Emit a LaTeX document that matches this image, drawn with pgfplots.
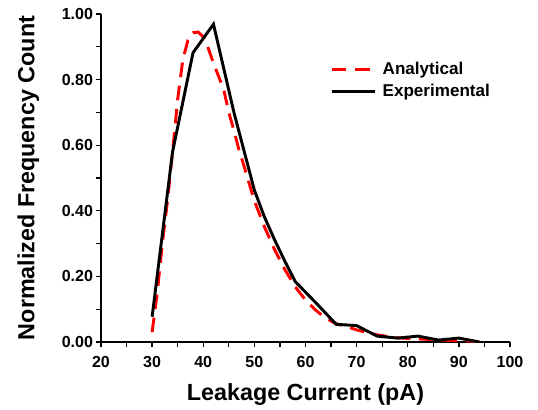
\documentclass[border=0pt]{standalone}
\usepackage{fontspec}
\setmainfont{Liberation Sans}
\usepackage{pgfplots}
\pgfplotsset{compat=1.18}
\begin{document}
\begin{tikzpicture}
\pgfresetboundingbox
\begin{axis}[name=a,
  scale only axis, width=306.75pt, height=246pt,
  axis lines=left, axis line style={-, line width=1pt},
  xmin=20, xmax=100, ymin=0, ymax=1,
  xtick={20,30,...,100}, ytick={0,0.2,...,1.0},
  minor x tick num=1, minor y tick num=1,
  tick align=outside, tick style={black, line width=1pt},
  major tick length=4pt, minor tick length=4pt,
  /pgf/number format/assume math mode=true,
  yticklabel style={xshift=1.5pt, /pgf/number format/.cd, fixed, fixed zerofill, precision=2},
  ticklabel style={font=\fontsize{12}{14}\selectfont\bfseries},
  xticklabel style={yshift=-3pt},
  xlabel={Leakage Current (pA)}, ylabel={Normalized Frequency Count},
  label style={font=\fontsize{17.5}{20}\selectfont\bfseries},
  xlabel style={yshift=-5pt}, ylabel style={yshift=10pt},
  legend style={at={(rel axis cs:0.55,0.87)}, anchor=north west, draw=none, fill=none,
    font=\fontsize{12.8}{15}\selectfont\bfseries, row sep=1.5pt},
  legend cell align=left,
  legend image code/.code={\draw[#1] (0cm,0cm) -- (1.13cm,0cm); \path (1.13cm+3pt,0cm);},
]
\addplot[red, line width=2.2pt, dash pattern=on 11pt off 6.5pt] coordinates {
(30,0.03) (31,0.15) (32,0.30) (33,0.43) (34,0.58) (35,0.74) (36,0.86) (37,0.92)
(38,0.943) (39,0.945) (40,0.93) (41,0.895) (42,0.85) (43,0.81) (44,0.77) (45,0.70)
(46,0.645) (47,0.585) (48,0.535) (50,0.43) (52,0.35) (54,0.28) (56,0.22) (58,0.168)
(60,0.128) (62,0.097) (64,0.072) (66,0.056) (68,0.047) (70,0.037) (72,0.029)
(74,0.022) (76,0.017) (78,0.013) (80,0.011) (84,0.008) (88,0.005) (92,0.003) (94,0.0)
};
\addlegendentry{Analytical}
\addplot[black, line width=2.2pt] coordinates {
(30,0.077) (34,0.58) (38,0.882) (42,0.969) (46,0.70) (50,0.463) (52,0.38) (54,0.31)
(56,0.245) (58,0.184) (62,0.12) (66,0.054) (70,0.05) (74,0.018) (78,0.012) (82,0.018)
(86,0.006) (90,0.012) (94,0.0)
};
\addlegendentry{Experimental}
\end{axis}
\useasboundingbox ([shift={(-75.75pt,-50.25pt)}]a.south west) rectangle ([shift={(21pt,10.5pt)}]a.north east);
\end{tikzpicture}
\end{document}
